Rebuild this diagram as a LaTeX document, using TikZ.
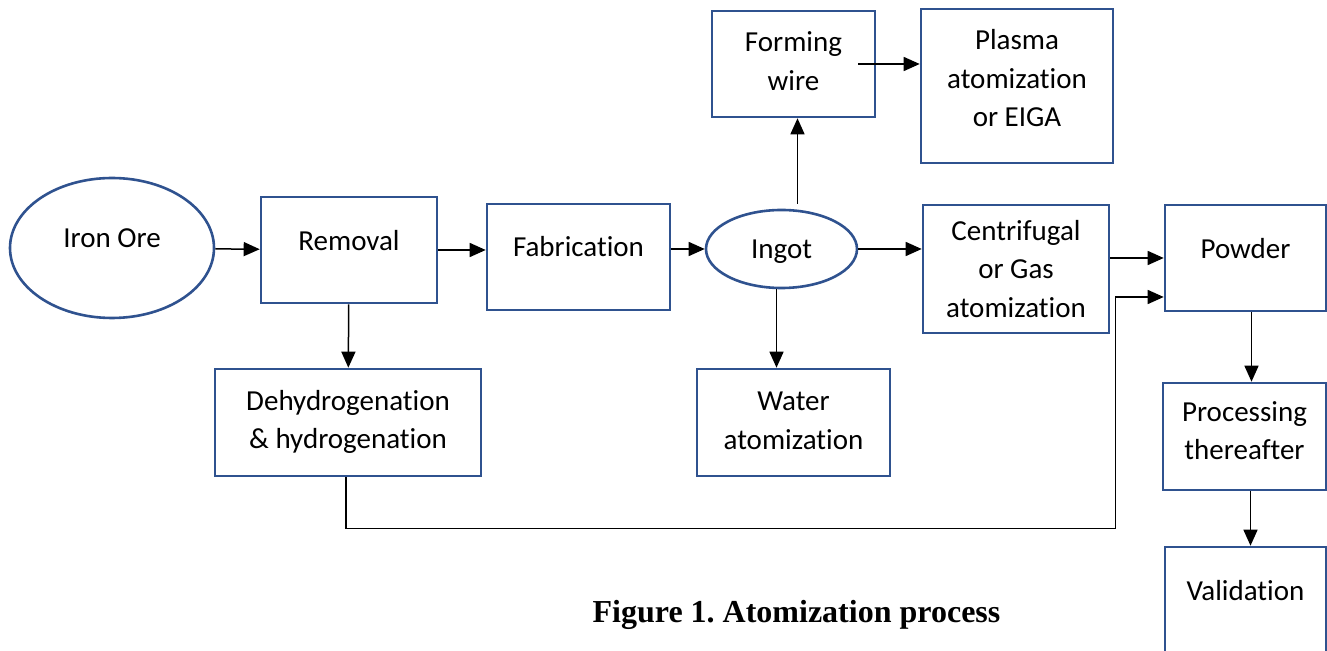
\documentclass[tikz,border=0pt]{standalone}
\usepackage{fontspec}
\setmainfont{Carlito}[RawFeature={-liga;-clig;-dlig}]
\newfontfamily\titlefont{Liberation Serif}
\usetikzlibrary{arrows.meta,shapes.geometric}
\frenchspacing

\definecolor{boxblue}{RGB}{47,82,143}

\tikzset{
  box/.style={rectangle,draw=boxblue,line width=1.3pt,align=center,
    font=\fontsize{14.5}{19.3}\selectfont},
  oval/.style={ellipse,draw=boxblue,line width=1.3pt,inner sep=1pt,
    font=\fontsize{14.5}{19.3}\selectfont},
  lift/.style={text depth=#1},
  conn/.style={draw,line width=0.75pt,-{Triangle[length=8pt,width=7pt]}}
}

\begin{document}
\begin{tikzpicture}[x=0.5pt,y=-0.5pt]

      \useasboundingbox (0,0) rectangle (1327,651);

      \begin{scope}[every node/.style={oval}]
        \node[minimum width=102pt,minimum height=70pt,lift=10pt]        (ore)   at (112,248)   {Iron Ore};
        \node[minimum width=75.5pt,minimum height=39pt,text height=12pt] (ingot) at (781.5,249) {Ingot};
      \end{scope}

      \begin{scope}[every node/.style={box}]
        \node[minimum width=88pt,minimum height=53pt,lift=10pt]     (removal) at (349,250)    {Removal};
        \node[minimum width=91.5pt,minimum height=53pt,lift=11pt]   (fab)     at (578.5,257)  {Fabrication};
        \node[minimum width=81.5pt,minimum height=53pt,lift=3pt]    (wire)    at (793.5,64)   {Forming\\wire};
        \node[minimum width=96pt,minimum height=77pt,lift=8pt]      (plasma)  at (1017,86)    {Plasma\\atomization\\or EIGA};
        \node[minimum width=93pt,minimum height=64pt]               (gas)     at (1016,269)   {Centrifugal\\or Gas\\atomization};
        \node[minimum width=80.5pt,minimum height=53pt,lift=10pt]   (powder)  at (1245.5,258) {Powder};
        \node[minimum width=133pt,minimum height=53.5pt,lift=3pt]   (dehyd)   at (348,422.5)  {Dehydrogenation\\\& hydrogenation};
        \node[minimum width=96.5pt,minimum height=53.5pt,lift=2pt]  (water)   at (793.5,422.5){Water\\atomization};
        \node[minimum width=81.5pt,minimum height=53.5pt,lift=6pt]  (proc)    at (1244.5,436.5){Processing\\thereafter};
        \node[minimum width=80.5pt,minimum height=56.5pt,lift=13.5pt](valid)  at (1245.5,603.5){Validation};
      \end{scope}

      \node[font=\titlefont\bfseries\fontsize{16}{19}\selectfont] (title) at (796.5,615) {Figure 1. Atomization process};

      \coordinate (pin) at ([yshift=-19.5pt]powder.west);

      \begin{scope}[every edge/.style={conn}]
        \path (ore)     edge (removal);
        \path (removal) edge (removal -| fab.west);
        \path (fab.east |- ingot) edge (ingot);
        \path (ingot)   edge (ingot -| gas.west);
        \path (removal) edge (dehyd);
        \path ([xshift=-2.5pt]ingot.south) edge ([xshift=-2.5pt]ingot.south |- water.north);
        \path ([xshift=2pt]wire.south |- ingot.north) edge[shorten <=2.5pt] ([xshift=2pt]wire.south);
        \path ([xshift=-9pt]wire.east) edge (wire -| plasma.west);
        \path (gas.east |- powder) edge (powder);
        \path ([xshift=3pt]powder.south) edge ([xshift=3pt]powder.south |- proc.north);
        \path ([xshift=3pt]proc.south) edge ([xshift=3pt]proc.south |- valid.north);
      \end{scope}

      \draw[conn] ([xshift=-1pt]dehyd.south) -- ++(0,51) -| ([xshift=-24pt]pin) -- (pin);

    \end{tikzpicture}
\end{document}
